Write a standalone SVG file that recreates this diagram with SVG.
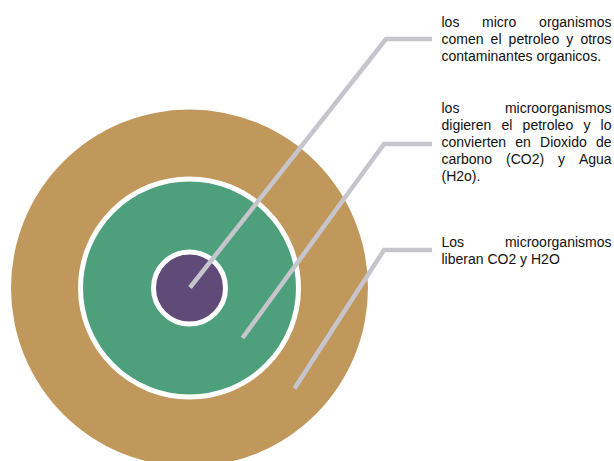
<svg xmlns="http://www.w3.org/2000/svg" width="614" height="461" viewBox="0 0 614 461">
<style>
.lbl{font-family:"Liberation Sans",Arial,sans-serif;font-size:14px;fill:#111111}
.conn{fill:none;stroke:#C7C5CC;stroke-width:4.5;stroke-linejoin:miter}
</style>
<rect width="614" height="461" fill="#FFFFFF"/>
<g id="outer-ring"><circle cx="189.5" cy="288" r="178.5" fill="#C1985B"/></g>
<g id="middle-ring"><circle cx="189.5" cy="288" r="109" fill="#4EA07C" stroke="#FFFFFF" stroke-width="5"/></g>
<g id="core"><circle cx="189.5" cy="288" r="36" fill="#5F4A78" stroke="#FFFFFF" stroke-width="5"/></g>
<g id="connectors">
<path class="conn" d="M190,287.5 L386,39 L432,39"/>
<path class="conn" d="M242.5,338 L384,144 L432,144"/>
<path class="conn" d="M294.5,388.5 L384,250 L432,250"/>
</g>
<g id="label-1" class="lbl">
<text y="26.5"><tspan x="441.5">los</tspan><tspan x="482.1">micro</tspan><tspan x="539.1">organismos</tspan></text>
<text y="43.5"><tspan x="441.5">comen</tspan><tspan x="490.6">el</tspan><tspan x="508.6">petroleo</tspan><tspan x="566.3">y</tspan><tspan x="580.4">otros</tspan></text>
<text x="441.5" y="60.5">contaminantes organicos.</text>
</g>
<g id="label-2" class="lbl">
<text y="113"><tspan x="441.5">los</tspan><tspan x="504.9">microorganismos</tspan></text>
<text y="130"><tspan x="441.5">digieren</tspan><tspan x="501.5">el</tspan><tspan x="522.6">petroleo</tspan><tspan x="583.4">y</tspan><tspan x="600.6">lo</tspan></text>
<text y="147"><tspan x="441.5">convierten</tspan><tspan x="515.3">en</tspan><tspan x="540.1">Dioxido</tspan><tspan x="595.9">de</tspan></text>
<text y="164"><tspan x="441.5">carbono</tspan><tspan x="506">(CO2)</tspan><tspan x="558">y</tspan><tspan x="578.9">Agua</tspan></text>
<text x="441.5" y="181">(H2o).</text>
</g>
<g id="label-3" class="lbl">
<text y="246.5"><tspan x="441.5">Los</tspan><tspan x="504.9">microorganismos</tspan></text>
<text x="441.5" y="263.5">liberan CO2 y H2O</text>
</g>
</svg>
